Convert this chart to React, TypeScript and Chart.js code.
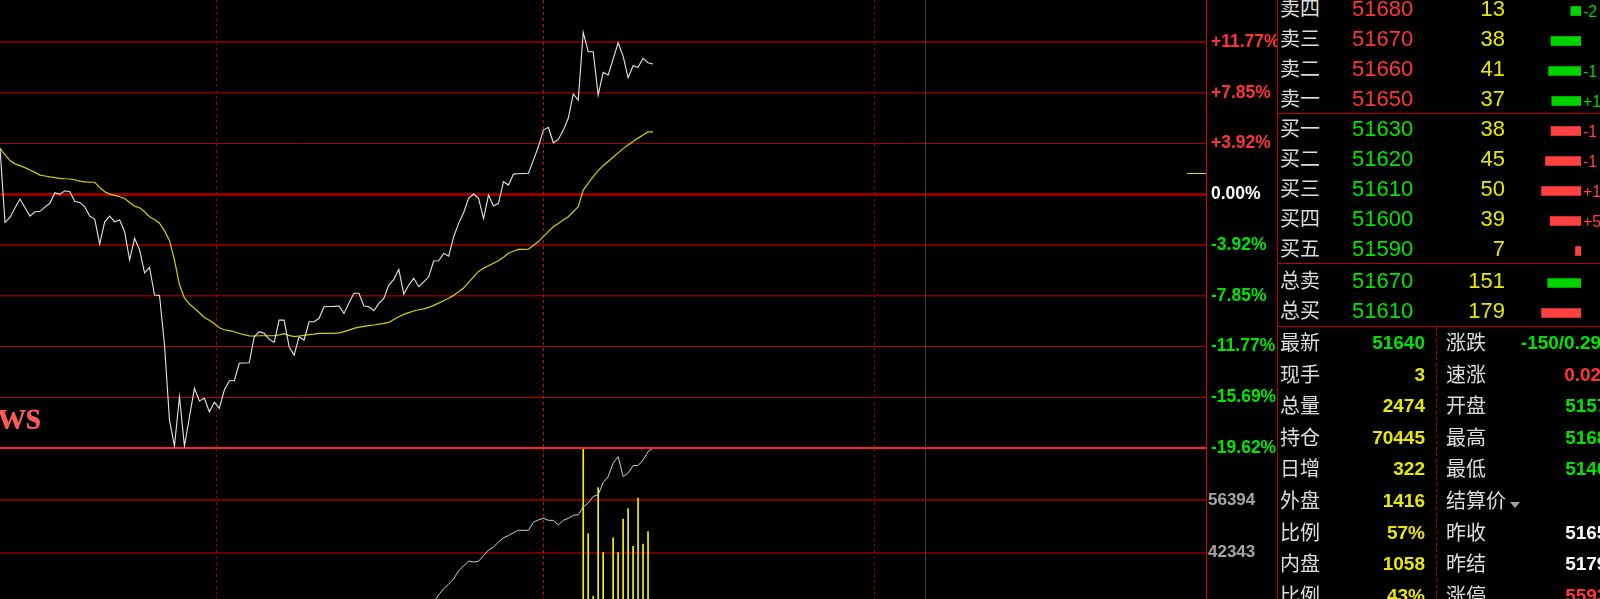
import React, { useEffect, useRef } from 'react';
import { Chart, registerables } from 'chart.js';

Chart.register(...registerables);

// ---------------- data ----------------
// price change (%) per minute
const priceSeries = [
  3.55, -2.17, -1.79, -1.07, -0.37, -1.03, -1.69, -1.35, -1.32, -0.99,
  -0.70, 0.12, -0.01, 0.27, 0.19, -0.55, -0.63, -0.97, -1.69, -1.92,
  -3.85, -2.13, -1.69, -2.13, -1.99, -2.90, -5.09, -3.41, -4.31, -6.07,
  -5.65, -7.79, -7.82, -11.66, -17.46, -19.47, -15.66, -19.47, -17.23, -15.01,
  -15.99, -15.78, -16.82, -16.09, -16.55, -15.14, -14.42, -14.42, -13.07, -13.05,
  -13.03, -11.02, -10.63, -10.75, -11.20, -11.45, -9.73, -9.73, -11.79, -12.43,
  -11.02, -11.27, -9.86, -9.86, -9.59, -8.70, -8.68, -8.67, -8.64, -9.21,
  -8.41, -7.66, -7.66, -8.64, -8.70, -9.01, -8.44, -8.05, -7.02, -6.58,
  -5.81, -7.72, -7.02, -6.50, -7.15, -6.77, -6.38, -5.16, -5.14, -4.57,
  -4.78, -3.29, -2.25, -1.43, -0.32, 0.02, -0.32, -1.88, -0.06, -0.91,
  -0.70, 0.97, 0.71, 1.56, 1.58, 1.60, 1.62, 2.64, 3.67, 4.96,
  5.17, 3.98, 4.24, 4.96, 5.87, 7.75, 7.28, 12.52, 11.02, 11.02,
  7.67, 9.42, 9.22, 10.45, 11.71, 10.68, 9.01, 9.94, 9.81, 10.51,
  10.17, 10.07,
];
// average price line (%)
const avgSeries = [
  3.55, 3.07, 2.60, 2.35, 2.21, 2.06, 1.88, 1.69, 1.48, 1.41,
  1.34, 1.28, 1.23, 1.20, 1.18, 1.12, 1.01, 0.96, 0.94, 0.93,
  0.53, 0.20, 0.01, -0.09, -0.19, -0.33, -0.63, -0.92, -1.04, -1.35,
  -1.74, -1.96, -2.24, -2.83, -3.57, -5.10, -6.98, -8.01, -8.49, -8.81,
  -9.16, -9.53, -9.75, -10.02, -10.32, -10.48, -10.55, -10.63, -10.77, -10.86,
  -10.95, -10.96, -10.94, -10.94, -10.94, -10.94, -10.87, -10.78, -10.91, -11.01,
  -10.96, -10.91, -10.86, -10.82, -10.76, -10.75, -10.75, -10.75, -10.72, -10.62,
  -10.51, -10.37, -10.27, -10.21, -10.16, -10.11, -10.04, -9.99, -9.91, -9.69,
  -9.47, -9.29, -9.15, -9.03, -8.93, -8.86, -8.75, -8.59, -8.42, -8.23,
  -8.04, -7.82, -7.54, -7.25, -6.82, -6.39, -5.97, -5.72, -5.53, -5.33,
  -5.14, -4.87, -4.56, -4.41, -4.26, -4.26, -4.25, -3.96, -3.66, -3.28,
  -2.89, -2.51, -2.26, -1.99, -1.74, -1.35, -0.97, 0.32, 0.85, 1.37,
  1.83, 2.21, 2.53, 2.86, 3.20, 3.53, 3.81, 4.08, 4.34, 4.58,
  4.82, 4.83,
];
// per-minute volume
const volumeSeries = [
  22, 9, 7, 6, 8, 5, 6, 4, 5, 7,
  6, 5, 4, 6, 5, 4, 6, 5, 7, 6,
  9, 7, 5, 6, 5, 8, 10, 7, 6, 9,
  7, 8, 6, 14, 18, 15, 16, 12, 9, 8,
  7, 8, 6, 7, 6, 7, 5, 6, 7, 6,
  5, 8, 6, 5, 4, 7, 5, 4, 8, 7,
  5, 6, 5, 4, 5, 6, 4, 4, 5, 6,
  5, 4, 6, 5, 4, 5, 6, 7, 5, 6,
  8, 7, 5, 6, 5, 4, 7, 6, 5, 6,
  8, 9, 7, 8, 9, 6, 7, 10, 8, 7,
  6, 9, 7, 6, 5, 6, 5, 9, 10, 8,
  12, 9, 8, 10, 11, 14, 13, 100, 59, 29,
  81, 50, 20, 57, 50, 66, 71, 53, 76, 54,
  60, 10,
];
// open interest, from minute oiStart on
const oiStart = 85;
const oiSeries = [
  24151, 26559, 28967, 30974, 32606, 33837, 35256, 37396, 38761, 40019,
  39778, 39992, 41491, 43016, 43819, 45157, 46254, 46923, 47646, 48314,
  48314, 48314, 50482, 51098, 51552, 50990, 50990, 49760, 50990, 51526,
  52328, 52516, 54576, 55647, 57413, 57868, 61159, 62765, 66351, 68117,
  62765, 63675, 65708, 65708, 67234, 69455, 70400,
];
const pctTicks = [11.77, 7.85, 3.92, 0, -3.92, -7.85, -11.77, -15.69, -19.62];
const volTicks = [56394, 42343];
const sessionMarks = [43.33, 108.93, 175.33, 185.56];
const markLevel = 1.62;

const bookLabels = ['卖四', '卖三', '卖二', '卖一', '买一', '买二', '买三', '买四', '买五'];
const bookPrices = ['51680', '51670', '51660', '51650', '51630', '51620', '51610', '51600', '51590'];
const bookQty = [13, 38, 41, 37, 38, 45, 50, 39, 7];
const bookChange = ['-2', '', '-1', '+1', '-1', '-1', '+1', '+5', ''];
const totalLabels = ['总卖', '总买'];
const totalPrices = ['51670', '51610'];
const totalQty = [151, 179];
const statLabelsL = ['最新', '现手', '总量', '持仓', '日增', '外盘', '比例', '内盘', '比例'];
const statValuesL = ['51640', '3', '2474', '70445', '322', '1416', '57%', '1058', '43%'];
const statLabelsR = ['涨跌', '速涨', '开盘', '最高', '最低', '结算价', '昨收', '昨结', '涨停'];
const statValuesR = ['-150/0.29%', '0.02%', '51570', '51680', '51400', '', '51650', '51790', '55930'];

// ---------------- styles ----------------
const X_MAX = 241.93;
const P_MIN = -19.62;
const P_MAX = 15.02;
const V_MIN = 14241;
const V_MAX = 70445;
const BAR_MAX = 100;

const RED = '#ff3535';
const GREEN = '#00e400';
const YELLOW = '#e8e800';
const WHITE = '#ffffff';
const LABEL = '#dedede';
const NUM = "'Liberation Sans', Arial, sans-serif";
const CJK = "'Noto Sans CJK SC', 'Noto Sans', sans-serif";

const pctGridColor = ['#7a0000', '#860000', '#a80000', '#950000', '#7a0000', '#860000', '#b00000', '#b00000', '#ff2020'];
const pctGridWidth = [2, 1.5, 1, 3, 2, 1.5, 1, 1, 2];
const volGridColor = ['#7a0000', '#6a0000'];
const markColors = ['#900000', '#e00000', '#900000', '#3c3c3c'];
const markDash = [[3, 3], [3, 3], [3, 3], []];

const sessionPlugin = {
  id: 'sessions',
  beforeDatasetsDraw(chart: any) {
    const { ctx, chartArea: a, scales } = chart;
    sessionMarks.forEach((v, k) => {
      const px = Math.round(scales.x.getPixelForValue(v)) + 0.5;
      ctx.save();
      ctx.strokeStyle = markColors[k];
      ctx.lineWidth = 1;
      ctx.setLineDash(markDash[k]);
      ctx.beginPath();
      ctx.moveTo(px, a.top);
      ctx.lineTo(px, a.bottom);
      ctx.stroke();
      ctx.restore();
    });
  },
};

const markerPlugin = {
  id: 'marker',
  afterDatasetsDraw(chart: any) {
    const { ctx, chartArea: a, scales } = chart;
    const y = Math.round(scales.y.getPixelForValue(markLevel)) + 0.5;
    ctx.save();
    ctx.strokeStyle = '#e0e000';
    ctx.lineWidth = 1;
    ctx.beginPath();
    ctx.moveTo(a.right - 19, y);
    ctx.lineTo(a.right, y);
    ctx.stroke();
    ctx.restore();
  },
};

const xAxis = () => ({ type: 'linear', min: 0, max: X_MAX, display: false, offset: false });

const fitRight = (w: number) => (s: any) => {
  s.width = w;
  s.paddingTop = 0;
  s.paddingBottom = 0;
};

function priceConfig(): any {
  return {
    type: 'line',
    data: {
      datasets: [
        {
          data: priceSeries.map((v, i) => ({ x: i, y: v })),
          borderColor: '#e6e6e6',
          borderWidth: 1.1,
          pointRadius: 0,
          tension: 0,
        },
        {
          data: avgSeries.map((v, i) => ({ x: i, y: v })),
          borderColor: '#d2d200',
          borderWidth: 1.2,
          pointRadius: 0,
          tension: 0,
        },
      ],
    },
    options: {
      animation: false,
      responsive: false,
      devicePixelRatio: 1,
      events: [],
      layout: { autoPadding: false, padding: { top: 0, bottom: 22, left: 0, right: 0 } },
      plugins: { legend: { display: false }, tooltip: { enabled: false } },
      scales: {
        x: xAxis(),
        y: {
          position: 'right',
          min: P_MIN,
          max: P_MAX,
          afterBuildTicks: (s: any) => {
            s.ticks = pctTicks.map((v) => ({ value: v }));
          },
          afterFit: fitRight(72),
          ticks: {
            autoSkip: false,
            padding: 5,
            font: { family: NUM, size: 17.5, weight: 'bold' },
            color: (c: any) => {
              const v = c.tick ? c.tick.value : 0;
              return v > 0 ? RED : v < 0 ? GREEN : WHITE;
            },
            callback: (v: any) => (Number(v) > 0 ? '+' : '') + Number(v).toFixed(2) + '%',
          },
          grid: {
            drawTicks: false,
            color: (c: any) => pctGridColor[c.index] || '#800000',
            lineWidth: (c: any) => pctGridWidth[c.index] || 1,
          },
          border: { display: true, color: '#d00000', width: 1 },
        },
      },
    },
    plugins: [sessionPlugin, markerPlugin],
  };
}

function volumeConfig(): any {
  return {
    type: 'bar',
    data: {
      datasets: [
        {
          type: 'bar',
          data: volumeSeries.map((v, i) => ({ x: i, y: v })),
          yAxisID: 'yv',
          backgroundColor: '#f4f400',
          barThickness: 1,
          grouped: false,
          order: 2,
        },
        {
          type: 'line',
          data: oiSeries.map((v, k) => ({ x: oiStart + k, y: v })),
          yAxisID: 'y',
          borderColor: '#cfcfcf',
          borderWidth: 1,
          pointRadius: 0,
          tension: 0,
          order: 1,
        },
      ],
    },
    options: {
      animation: false,
      responsive: false,
      devicePixelRatio: 1,
      events: [],
      layout: { autoPadding: false, padding: { top: 0, bottom: 3, left: 0, right: 0 } },
      plugins: { legend: { display: false }, tooltip: { enabled: false } },
      scales: {
        x: xAxis(),
        yv: { display: false, min: 0, max: BAR_MAX },
        y: {
          position: 'right',
          min: V_MIN,
          max: V_MAX,
          afterBuildTicks: (s: any) => {
            s.ticks = volTicks.map((v) => ({ value: v }));
          },
          afterFit: fitRight(72),
          ticks: {
            autoSkip: false,
            padding: 2,
            font: { family: NUM, size: 17, weight: 'bold' },
            color: '#a6a6a6',
            callback: (v: any) => String(v),
          },
          grid: {
            drawTicks: false,
            color: (c: any) => volGridColor[c.index] || '#700000',
            lineWidth: 2,
          },
          border: { display: true, color: '#d00000', width: 1 },
        },
      },
    },
    plugins: [sessionPlugin],
  };
}

function bookConfig(labels: string[], values: number[], colors: string[], max: number): any {
  return {
    type: 'bar',
    data: {
      labels,
      datasets: [{ data: values, backgroundColor: colors, barThickness: 9 }],
    },
    options: {
      indexAxis: 'y',
      animation: false,
      responsive: false,
      devicePixelRatio: 1,
      events: [],
      layout: { autoPadding: false, padding: 0 },
      plugins: { legend: { display: false }, tooltip: { enabled: false } },
      scales: {
        x: { display: false, reverse: true, min: 0, max },
        y: { display: false },
      },
    },
  };
}

function ChartCanvas({ config, left, top, width, height, z = 1 }: any) {
  const ref = useRef<HTMLCanvasElement>(null);
  useEffect(() => {
    const chart = new Chart(ref.current as HTMLCanvasElement, config());
    return () => chart.destroy();
  }, []);
  return (
    <canvas
      ref={ref}
      width={width}
      height={height}
      style={{ position: 'absolute', left, top, width, height, zIndex: z }}
    />
  );
}

function Txt({ x, y, children, color, size, weight = 400, align = 'left', family = NUM, dy = 0 }: any) {
  const style: any = {
    position: 'absolute',
    top: y - 12 + dy,
    height: 24,
    lineHeight: '24px',
    fontSize: size,
    fontWeight: weight,
    color,
    fontFamily: family,
    whiteSpace: 'nowrap',
    zIndex: 5,
  };
  if (align === 'left') style.left = x;
  else style.right = 1600 - x;
  return <div style={style}>{children}</div>;
}

const Line = ({ left, top, width, height, color }: any) => (
  <div style={{ position: 'absolute', left, top, width, height, background: color, zIndex: 6 }} />
);

export default function App() {
  const bookColors = bookQty.map((_, k) => (k < 4 ? '#00d400' : '#ff4040'));
  const bookRow = (k: number) => 8.8 + 30 * k;
  const totalRow = (k: number) => 280.8 + 30 * k;
  const statRow = (k: number) => 343 + 31.6 * k;

  return (
    <div
      style={{
        position: 'fixed',
        left: 0,
        top: 0,
        width: 1600,
        height: 599,
        background: '#000',
        overflow: 'hidden',
      }}
    >
      <ChartCanvas config={volumeConfig} left={0} top={448} width={1278} height={212} z={1} />
      <ChartCanvas config={priceConfig} left={0} top={0} width={1278} height={470} z={2} />

      <div
        style={{
          position: 'absolute',
          right: 1600 - 41,
          top: 396,
          fontFamily: "'Liberation Serif', 'Times New Roman', serif",
          fontWeight: 'bold',
          fontSize: 39,
          lineHeight: '39px',
          color: '#ff5a5a',
          whiteSpace: 'nowrap',
          zIndex: 4,
        }}
      >
        News
      </div>

      {/* right panel */}
      <div style={{ position: 'absolute', left: 1277, top: 0, width: 323, height: 599, background: '#000', zIndex: 3 }} />
      <Line left={1277} top={0} width={1} height={599} color="#c00000" />
      <Line left={1277} top={113} width={323} height={1} color="#c00000" />
      <Line left={1277} top={263} width={323} height={1} color="#c00000" />
      <Line left={1277} top={326} width={323} height={1} color="#c00000" />
      <div
        style={{
          position: 'absolute',
          left: 1436,
          top: 327,
          width: 1,
          height: 272,
          background: 'repeating-linear-gradient(to bottom, #c00000 0 3px, transparent 3px 6px)',
          zIndex: 6,
        }}
      />

      <ChartCanvas config={() => bookConfig(bookLabels, bookQty, bookColors, 128)} left={1480} top={-4} width={101} height={270} z={5} />
      <ChartCanvas config={() => bookConfig(totalLabels, totalQty, ['#00d400', '#ff4040'], 458)} left={1480} top={268} width={101} height={60} z={5} />

      {bookLabels.map((l, k) => (
        <React.Fragment key={'b' + k}>
          <Txt x={1280} y={bookRow(k)} dy={-1} color={LABEL} size={20} family={CJK}>{l}</Txt>
          <Txt x={1352} y={bookRow(k)} color={k < 4 ? RED : GREEN} size={22}>{bookPrices[k]}</Txt>
          <Txt x={1505} y={bookRow(k)} align="right" color={YELLOW} size={22}>{bookQty[k]}</Txt>
          {bookChange[k] ? (
            <Txt x={1583} y={bookRow(k)} dy={3.5} color={k < 4 ? '#00d400' : '#ff4040'} size={16}>{bookChange[k]}</Txt>
          ) : null}
        </React.Fragment>
      ))}

      {totalLabels.map((l, k) => (
        <React.Fragment key={'t' + k}>
          <Txt x={1280} y={totalRow(k)} dy={-1} color={LABEL} size={20} family={CJK}>{l}</Txt>
          <Txt x={1352} y={totalRow(k)} color={GREEN} size={22}>{totalPrices[k]}</Txt>
          <Txt x={1505} y={totalRow(k)} align="right" color={YELLOW} size={22}>{totalQty[k]}</Txt>
        </React.Fragment>
      ))}

      {statLabelsL.map((l, k) => (
        <React.Fragment key={'s' + k}>
          <Txt x={1280} y={statRow(k)} dy={-1} color={LABEL} size={20} family={CJK}>{l}</Txt>
          <Txt x={1425} y={statRow(k)} align="right" color={k === 0 ? GREEN : YELLOW} size={19} weight={700}>{statValuesL[k]}</Txt>
          <Txt x={1446} y={statRow(k)} dy={-1} color={LABEL} size={20} family={CJK}>{statLabelsR[k]}</Txt>
          {statValuesR[k] ? (
            <Txt
              x={1618}
              y={statRow(k)}
              align="right"
              color={[GREEN, RED, GREEN, GREEN, GREEN, WHITE, WHITE, WHITE, RED][k]}
              size={19}
              weight={700}
            >
              {statValuesR[k]}
            </Txt>
          ) : null}
        </React.Fragment>
      ))}
      <div
        style={{
          position: 'absolute',
          left: 1510,
          top: 502,
          width: 0,
          height: 0,
          borderLeft: '5px solid transparent',
          borderRight: '5px solid transparent',
          borderTop: '6px solid #a0a0a0',
          zIndex: 6,
        }}
      />
    </div>
  );
}
